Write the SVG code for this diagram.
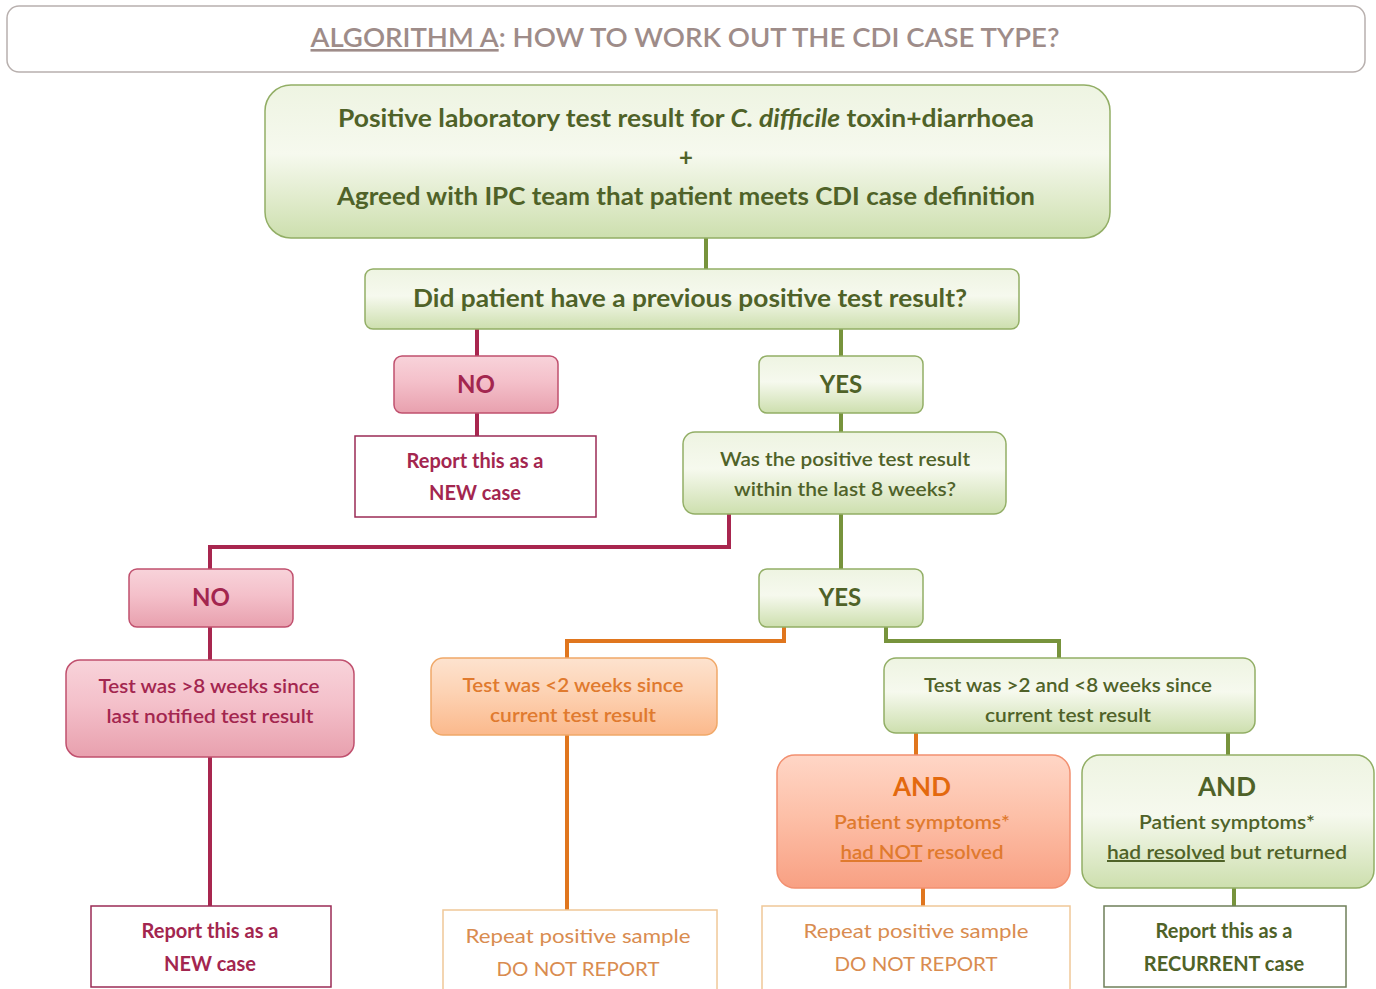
<svg xmlns="http://www.w3.org/2000/svg" width="1376" height="989" viewBox="0 0 1376 989">
<defs>
<linearGradient id="gG" x1="0" y1="0" x2="0" y2="1"><stop offset="0" stop-color="#eef4e2"/><stop offset="0.45" stop-color="#f6f9ee"/><stop offset="1" stop-color="#cddfae"/></linearGradient>
<linearGradient id="gP" x1="0" y1="0" x2="0" y2="1"><stop offset="0" stop-color="#f8d3da"/><stop offset="0.45" stop-color="#f4c0ca"/><stop offset="1" stop-color="#e8a0ae"/></linearGradient>
<linearGradient id="gO" x1="0" y1="0" x2="0" y2="1"><stop offset="0" stop-color="#fde3cf"/><stop offset="0.45" stop-color="#fdd2b3"/><stop offset="1" stop-color="#fbb98c"/></linearGradient>
<linearGradient id="gO2" x1="0" y1="0" x2="0" y2="1"><stop offset="0" stop-color="#ffd6c6"/><stop offset="0.45" stop-color="#fdc0a8"/><stop offset="1" stop-color="#f8a083"/></linearGradient>
</defs>
<style>
text{font-family:Lato,"Liberation Sans",sans-serif;text-anchor:middle}
.g{fill:url(#gG);stroke:#92ae65;stroke-width:1.5}
.p{fill:url(#gP);stroke:#c0506e;stroke-width:1.5}
.o{fill:url(#gO);stroke:#f0a868;stroke-width:1.5}
.o2{fill:url(#gO2);stroke:#f29070;stroke-width:1.5}
.wr{fill:#fff;stroke:#9b2b55;stroke-width:1.5}
.wo{fill:#fff;stroke:#f0c898;stroke-width:1.5}
.wg{fill:#fff;stroke:#6f7f5a;stroke-width:1.5}
.tg{fill:#4f6228;font-weight:bold}
.tr{fill:#a3264f;font-weight:bold}
.to{fill:#e07a2e;font-weight:bold}
.tow{fill:#d98c50}
.cg{stroke:#77933c;stroke-width:4;fill:none}
.cr{stroke:#a8264f;stroke-width:4;fill:none}
.co{stroke:#e0761e;stroke-width:4;fill:none}
</style>
<g id="connectors">
<path class="cg" d="M706,238V270"/>
<path class="cr" d="M477,329V356M477,413V436"/>
<path class="cg" d="M841,329V356M841,413V432M841,514V569"/>
<path class="cr" d="M729,514V547H210V569M210,627V660M210,757V906"/>
<path class="co" d="M784,627V641H567V658M567,735V910"/>
<path class="cg" d="M886,627V641H1059V658"/>
<path class="co" d="M916,733V755M923,888V906"/>
<path class="cg" d="M1228,733V755M1234,888V906"/>
</g>
<g id="title">
<rect x="7" y="6" width="1358" height="66" rx="12" fill="#fff" stroke="#b8b0ae" stroke-width="1.5"/>
<text x="685" y="47" font-size="26" fill="#9e8c89" style="font-weight:600" textLength="749" lengthAdjust="spacingAndGlyphs"><tspan text-decoration="underline">ALGORITHM A</tspan>: HOW TO WORK OUT THE CDI CASE TYPE?</text>
</g>
<g id="n_start">
<rect class="g" x="265" y="85" width="845" height="153" rx="26"/>
<text class="tg" x="686" y="127" font-size="24" textLength="696" lengthAdjust="spacingAndGlyphs">Positive laboratory test result for <tspan font-style="italic">C. difficile</tspan> toxin+diarrhoea</text>
<text class="tg" x="686" y="166" font-size="24">+</text>
<text class="tg" x="686" y="205" font-size="24" textLength="698" lengthAdjust="spacingAndGlyphs">Agreed with IPC team that patient meets CDI case definition</text>
</g>
<g id="n_prev">
<rect class="g" x="365" y="269" width="654" height="60" rx="8"/>
<text class="tg" x="690" y="307" font-size="24" textLength="554" lengthAdjust="spacingAndGlyphs">Did patient have a previous positive test result?</text>
</g>
<g id="n_no1">
<rect class="p" x="394" y="356" width="164" height="57" rx="8"/>
<text class="tr" x="476" y="393" font-size="24">NO</text>
</g>
<g id="n_new1">
<rect class="wr" x="355" y="436" width="241" height="81"/>
<text class="tr" x="475" y="468" font-size="20">Report this as a</text>
<text class="tr" x="475" y="500" font-size="20">NEW case</text>
</g>
<g id="n_yes1">
<rect class="g" x="759" y="356" width="164" height="57" rx="8"/>
<text class="tg" x="841" y="393" font-size="24">YES</text>
</g>
<g id="n_8weeks">
<rect class="g" x="683" y="432" width="323" height="82" rx="12"/>
<text class="tg" x="845" y="466" font-size="20" style="font-weight:600" textLength="250" lengthAdjust="spacingAndGlyphs">Was the positive test result</text>
<text class="tg" x="845" y="496" font-size="20" style="font-weight:600" textLength="222" lengthAdjust="spacingAndGlyphs">within the last 8 weeks?</text>
</g>
<g id="n_no2">
<rect class="p" x="129" y="569" width="164" height="58" rx="8"/>
<text class="tr" x="211" y="606" font-size="24">NO</text>
</g>
<g id="n_yes2">
<rect class="g" x="759" y="569" width="164" height="58" rx="8"/>
<text class="tg" x="840" y="606" font-size="24">YES</text>
</g>
<g id="n_gt8">
<rect class="p" x="66" y="660" width="288" height="97" rx="14"/>
<text class="tr" x="209" y="693" font-size="20" style="font-weight:600" textLength="221" lengthAdjust="spacingAndGlyphs">Test was &gt;8 weeks since</text>
<text class="tr" x="210" y="723" font-size="20" style="font-weight:600" textLength="207" lengthAdjust="spacingAndGlyphs">last notified test result</text>
</g>
<g id="n_lt2">
<rect class="o" x="431" y="658" width="286" height="77" rx="12"/>
<text class="to" x="573" y="692" font-size="20" style="font-weight:600" textLength="221" lengthAdjust="spacingAndGlyphs">Test was &lt;2 weeks since</text>
<text class="to" x="573" y="722" font-size="20" style="font-weight:600" textLength="166" lengthAdjust="spacingAndGlyphs">current test result</text>
</g>
<g id="n_2to8">
<rect class="g" x="884" y="658" width="371" height="75" rx="12"/>
<text class="tg" x="1068" y="692" font-size="20" style="font-weight:600" textLength="288" lengthAdjust="spacingAndGlyphs">Test was &gt;2 and &lt;8 weeks since</text>
<text class="tg" x="1068" y="722" font-size="20" style="font-weight:600" textLength="166" lengthAdjust="spacingAndGlyphs">current test result</text>
</g>
<g id="n_and_not">
<rect class="o2" x="777" y="755" width="293" height="133" rx="18"/>
<text class="to" x="922" y="796" font-size="26" style="fill:#e3690e">AND</text>
<text class="to" x="922" y="829" font-size="20" style="font-weight:600" textLength="176" lengthAdjust="spacingAndGlyphs">Patient symptoms*</text>
<text class="to" x="922" y="859" font-size="20" style="font-weight:600" textLength="163" lengthAdjust="spacingAndGlyphs"><tspan text-decoration="underline">had NOT</tspan> resolved</text>
</g>
<g id="n_and_res">
<rect class="g" x="1082" y="755" width="292" height="133" rx="18"/>
<text class="tg" x="1227" y="796" font-size="26">AND</text>
<text class="tg" x="1227" y="829" font-size="20" style="font-weight:600" textLength="176" lengthAdjust="spacingAndGlyphs">Patient symptoms*</text>
<text class="tg" x="1227" y="859" font-size="20" style="font-weight:600" textLength="240" lengthAdjust="spacingAndGlyphs"><tspan text-decoration="underline">had resolved</tspan> but returned</text>
</g>
<g id="n_new2">
<rect class="wr" x="91" y="906" width="240" height="81"/>
<text class="tr" x="210" y="938" font-size="20">Report this as a</text>
<text class="tr" x="210" y="971" font-size="20">NEW case</text>
</g>
<g id="n_rep1">
<rect class="wo" x="443" y="910" width="274" height="82"/>
<text class="tow" x="578" y="943" font-size="20" textLength="225" lengthAdjust="spacingAndGlyphs">Repeat positive sample</text>
<text class="tow" x="578" y="976" font-size="20" textLength="163" lengthAdjust="spacingAndGlyphs">DO NOT REPORT</text>
</g>
<g id="n_rep2">
<rect class="wo" x="762" y="906" width="308" height="86"/>
<text class="tow" x="916" y="938" font-size="20" textLength="225" lengthAdjust="spacingAndGlyphs">Repeat positive sample</text>
<text class="tow" x="916" y="971" font-size="20" textLength="163" lengthAdjust="spacingAndGlyphs">DO NOT REPORT</text>
</g>
<g id="n_recur">
<rect class="wg" x="1104" y="906" width="242" height="81"/>
<text class="tg" x="1224" y="938" font-size="20">Report this as a</text>
<text class="tg" x="1224" y="971" font-size="20">RECURRENT case</text>
</g>
</svg>
